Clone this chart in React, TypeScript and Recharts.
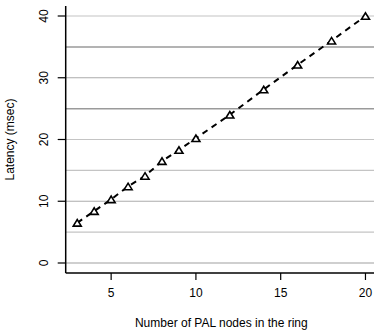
import { ComposedChart, Line, XAxis, YAxis, ReferenceLine } from 'recharts';

const nodes = [3, 4, 5, 6, 7, 8, 9, 10, 12, 14, 16, 18, 20];
const latency = [6.5, 8.4, 10.3, 12.4, 14.1, 16.5, 18.3, 20.2, 24.0, 28.1, 32.1, 36.0, 40.0];
const xTicks = [5, 10, 15, 20];
const yTicks = [0, 10, 20, 30, 40];
const gridValues = [0, 5, 10, 15, 20, 25, 30, 35, 40];

const data = nodes.map((n, i) => ({ n, latency: latency[i] }));

const gridStyle = (v: number) => {
  if (v === 0) return { stroke: '#cfcfcf', strokeWidth: 2 };
  if (v === 25 || v === 35) return { stroke: '#9a9a9a', strokeWidth: 1.5 };
  if (v === 10 || v === 30) return { stroke: '#ababab', strokeWidth: 1 };
  return { stroke: '#c4c4c4', strokeWidth: 1.2 };
};

const FONT = '"Liberation Sans", Arial, sans-serif';

const Triangle = (props: any) => {
  const { cx, cy } = props;
  if (cx == null || cy == null) return null;
  const h = 6.5;
  const w = 8;
  const pts = `${cx - w / 2},${cy + h / 2} ${cx + w / 2},${cy + h / 2} ${cx},${cy - h / 2}`;
  return <polygon points={pts} fill="#fff" stroke="#000" strokeWidth={1.6} strokeLinejoin="miter" />;
};

const YTick = (props: any) => {
  const { x, y, payload } = props;
  return (
    <text
      x={x - 8}
      y={y}
      transform={`rotate(-90, ${x - 8}, ${y})`}
      textAnchor="middle"
      fontSize={12}
      fontFamily={FONT}
      fill="#000"
    >
      {payload.value}
    </text>
  );
};

const XTick = (props: any) => {
  const { x, y, payload } = props;
  return (
    <text x={x} y={y + 15} textAnchor="middle" fontSize={12} fontFamily={FONT} fill="#000">
      {payload.value}
    </text>
  );
};

export default function App() {
  return (
    <div style={{ width: 374, height: 331, background: '#fff', position: 'relative', overflow: 'hidden' }}>
      <style>{`body{margin:0;background:#fff}`}</style>
      <ComposedChart
        width={385}
        height={331}
        data={data}
        margin={{ top: 6, right: 8, bottom: 0, left: 0 }}
      >
        <XAxis
          dataKey="n"
          type="number"
          domain={[2.32, 20.68]}
          ticks={xTicks}
          allowDataOverflow
          stroke="#000"
          tickLine={{ stroke: '#000', strokeWidth: 1.2 }}
          axisLine={{ stroke: '#000', strokeWidth: 1.5 }}
          tickSize={7}
          tick={<XTick />}
          height={58}
          label={{
            value: 'Number of PAL nodes in the ring',
            position: 'insideBottom',
            offset: 4,
            style: { fontSize: 12, fontFamily: FONT, fill: '#000' },
          }}
        />
        <XAxis xAxisId="top" type="number" domain={[2.32, 20.68]} orientation="top" height={0} tick={false} tickLine={false} axisLine={{ stroke: '#000', strokeWidth: 1.5 }} />
        <YAxis
          type="number"
          domain={[-1.62, 41.62]}
          ticks={yTicks}
          allowDataOverflow
          width={65.7}
          tickLine={{ stroke: '#000', strokeWidth: 1.2 }}
          axisLine={{ stroke: '#000', strokeWidth: 1.5 }}
          tickSize={8}
          tick={<YTick />}
          label={{
            value: 'Latency (msec)',
            angle: -90,
            position: 'insideLeft',
            offset: 10,
            style: { fontSize: 12, fontFamily: FONT, fill: '#000', textAnchor: 'middle' },
          }}
        />
        {gridValues.map((v) => (
          <ReferenceLine key={v} y={v} {...gridStyle(v)} />
        ))}
        <Line
          dataKey="latency"
          stroke="#000"
          strokeWidth={2}
          strokeDasharray="6 5"
          dot={<Triangle />}
          activeDot={false}
          isAnimationActive={false}
        />
      </ComposedChart>
    </div>
  );
}
